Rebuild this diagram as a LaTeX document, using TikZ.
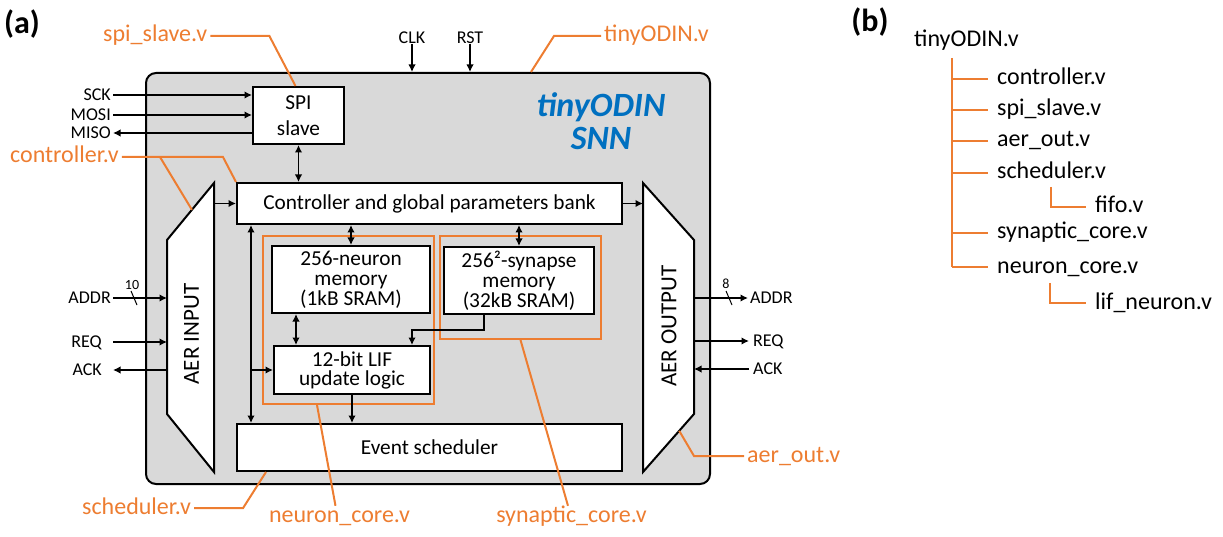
\documentclass[tikz,border=0pt]{standalone}
\usepackage{xcolor}
\usepackage{fontspec}
\setmainfont{Carlito}
\usepackage{tikz}
\usetikzlibrary{arrows.meta, positioning, calc}

\definecolor{vorange}{HTML}{ED7D31}
\definecolor{snnblue}{HTML}{0070C0}
\definecolor{chipgray}{HTML}{D9D9D9}

\begin{document}
\begin{tikzpicture}[x=1pt, y=-1pt,
    blk/.style={draw, line width=2pt, fill=white, inner sep=0pt, align=center, font=\fontsize{21.3}{20}\selectfont},
    core/.style={draw=vorange, line width=2pt},
    pin/.style={inner xsep=2pt, inner ysep=0pt, text height=11.6pt, text depth=0pt, font=\fontsize{18}{20}\selectfont},
    fname/.style={inner xsep=0pt, inner ysep=0pt, text height=16pt, text depth=4pt, font=\fontsize{24}{26}\selectfont},
    vfile/.style={fname, inner xsep=3pt, text=vorange},
    buswd/.style={inner sep=0pt, font=\fontsize{14}{15}\selectfont},
    sig/.style={line width=1.8pt, -{Latex[length=7.5pt, width=7.5pt]}},
    bsig/.style={line width=1.8pt, {Latex[length=7.5pt, width=7.5pt]}-{Latex[length=7.5pt, width=7.5pt]}},
    lead/.style={draw=vorange, line width=2pt}]
    \useasboundingbox (0, 0) rectangle (1223, 537);

    \node[draw, line width=2pt, fill=chipgray, rounded corners=10pt, minimum width=564pt, minimum height=411pt] at (428, 278.5) (chip) {};
    \node[font=\fontsize{32}{34}\selectfont\bfseries, inner sep=0pt] at (22, 24) (lbla) {(a)};
    \node[font=\fontsize{32}{34}\selectfont\bfseries, inner sep=0pt] at (870, 22) (lblb) {(b)};
    \node[font=\fontsize{34}{33}\selectfont\bfseries\itshape, text=snnblue, align=center, inner sep=0pt] at (601, 121) (title) {tinyODIN\\SNN};

    \node[core, minimum width=171pt, minimum height=168pt] at (348.5, 320) (ncore) {};
    \node[core, minimum width=161pt, minimum height=103pt] at (520.5, 287.5) (score) {};

    \node[blk, minimum width=91pt, minimum height=57pt] at (298.5, 115.5) (spi) {SPI\\[6pt]slave};
    \node[blk, minimum width=385pt, minimum height=41pt] at (429.5, 203.5) (ctrl) {Controller and global parameters bank};
    \node[blk, minimum width=158pt, minimum height=67pt] at (351, 279.5) (nmem) {256-neuron\\memory\\(1kB SRAM)};
    \node[blk, minimum width=150pt, minimum height=67pt] at (519, 280.5) (smem) {256²-synapse\\memory\\(32kB SRAM)};
    \node[blk, minimum width=156pt, minimum height=48pt] at (352, 370) (lif) {12-bit LIF\\[-1pt]update logic};
    \node[blk, minimum width=385pt, minimum height=47pt] at (429.5, 447.5) (sched) {Event scheduler};

    \coordinate (ainTop) at (214, 183);
    \coordinate (ainA) at (167, 240);
    \coordinate (ainB) at (167, 414);
    \coordinate (ainBot) at (214, 472);
    \draw[line width=2pt, fill=white] (ainTop) -- (ainA) -- (ainB) -- (ainBot) -- cycle;
    \node[rotate=90, inner sep=0pt, font=\fontsize{23}{25}\selectfont] at (191.5, 334) (ainlbl) {AER INPUT};

    \coordinate (aoutTop) at (643, 183);
    \coordinate (aoutA) at (694, 240);
    \coordinate (aoutB) at (694, 414);
    \coordinate (aoutBot) at (643, 472);
    \draw[line width=2pt, fill=white] (aoutTop) -- (aoutA) -- (aoutB) -- (aoutBot) -- cycle;
    \node[rotate=90, inner sep=0pt, font=\fontsize{23}{25}\selectfont] at (669, 326) (aoutlbl) {AER OUTPUT};

    \node[pin, anchor=east] at (113, 95) (sck) {SCK};
    \node[pin, anchor=east] at (113, 115) (mosi) {MOSI};
    \node[pin, anchor=east] at (113, 133) (miso) {MISO};
    \node[pin, anchor=east] at (113, 298) (addrin) {ADDR};
    \node[pin, anchor=east, inner xsep=11pt] at (113, 342) (reqin) {REQ};
    \node[pin, anchor=east, inner xsep=11pt] at (113, 370) (ackin) {ACK};
    \node[pin, anchor=west] at (748, 298) (addrout) {ADDR};
    \node[pin, anchor=west, inner xsep=4pt] at (749, 341) (reqout) {REQ};
    \node[pin, anchor=west, inner xsep=4pt] at (749, 369) (ackout) {ACK};
    \node[pin] at (412, 38) (clk) {CLK};
    \node[pin] at (470, 38) (rst) {RST};

    \draw[sig] (sck.east) -- (sck.east -| spi.west);
    \draw[sig] (mosi.east) -- (mosi.east -| spi.west);
    \draw[sig] (miso.east -| spi.west) -- (miso.east);
    \draw[sig] (addrin.east) -- (addrin.east -| ainA);
    \draw[sig] (reqin.east) -- (reqin.east -| ainA);
    \draw[sig] (ackin.east -| ainA) -- (ackin.east);
    \draw[sig] (addrout.west -| aoutA) -- (addrout.west);
    \draw[sig] (reqout.west -| aoutA) -- (reqout.west);
    \draw[sig] (ackout.west) -- (ackout.west -| aoutA);
    \draw[sig] (clk.south) -- (clk.south |- chip.north);
    \draw[sig] (rst.south) -- (rst.south |- chip.north);

    \draw[line width=1pt] (131, 291) -- (137, 305);
    \node[buswd] at (132, 285) (w10) {10};
    \draw[line width=1pt] (726, 291) -- (732, 305);
    \node[buswd] at (726, 284) (w8) {8};

    \draw[bsig] (spi.south) -- (spi.south |- ctrl.north);
    \draw[sig] (ctrl.west -| ainTop) -- (ctrl.west);
    \draw[sig] (ctrl.east) -- (ctrl.east -| aoutTop);
    \draw[bsig] (nmem.north) -- (nmem.north |- ctrl.south);
    \draw[bsig] (smem.north) -- (smem.north |- ctrl.south);
    \coordinate (cbus) at ([xshift=15pt]ctrl.south west);
    \draw[bsig] (cbus) -- (cbus |- sched.north);
    \draw[sig] (cbus |- lif.west) -- (lif.west);
    \coordinate (nlink) at ([xshift=-55pt]nmem.south);
    \draw[bsig] (nlink) -- (nlink |- lif.north);
    \draw[sig] ([xshift=-35pt]smem.south) -- ++(0, 15) -| ([xshift=60pt]lif.north);
    \draw[sig] (lif.south) -- (lif.south |- sched.north);

    \node[vfile, anchor=west] at (100, 36) (spiv) {spi\_slave.v};
    \node[vfile, anchor=west] at (601, 36) (topv) {tinyODIN.v};
    \node[vfile, anchor=west] at (7, 157) (ctrlv) {controller.v};
    \node[vfile, anchor=west] at (79, 508) (schedv) {scheduler.v};
    \node[vfile] at (339.5, 516) (ncorev) {neuron\_core.v};
    \node[vfile] at (571.5, 516) (scorev) {synaptic\_core.v};
    \node[vfile, anchor=west] at (744, 456) (aerv) {aer\_out.v};

    \draw[lead] (spiv.east) -- ++(59, 0) -- ([xshift=-3pt]spi.north);
    \draw[lead] (topv.west) -- ++(-47, 0) -- ([xshift=103pt]chip.north);
    \draw[lead] (ctrlv.east) -- ++(38, 0) coordinate (cfork) -- ++(63, 0) -- (ctrl.north west);
    \draw[lead] (cfork) -- ($(ainTop)!0.47!(ainA)$);
    \draw[lead] (schedv.east) -- ++(49, 0) -- ([xshift=30pt]sched.south west);
    \draw[lead] ([xshift=-4pt]ncorev.north) -- ([xshift=-31.5pt]ncore.south);
    \draw[lead] ([xshift=-3.5pt]scorev.north) -- (score.south);
    \draw[lead] (aerv.west) -- ++(-50, 0) -- ($(aoutB)!0.29!(aoutBot)$);

    \node[fname, anchor=west] at (914, 41) (root) {tinyODIN.v};
    \node[fname, anchor=west] at (997, 79) (fctl) {controller.v};
    \node[fname, anchor=west] at (997, 110) (fspi) {spi\_slave.v};
    \node[fname, anchor=west] at (997, 141) (faer) {aer\_out.v};
    \node[fname, anchor=west] at (997, 173) (fsch) {scheduler.v};
    \node[fname, anchor=west] at (1095, 207) (ffifo) {fifo.v};
    \node[fname, anchor=west] at (997, 233) (fsyn) {synaptic\_core.v};
    \node[fname, anchor=west] at (997, 267) (fneu) {neuron\_core.v};
    \node[fname, anchor=west] at (1095, 303) (flif) {lif\_neuron.v};

    \coordinate (trunk) at ([xshift=38pt, yshift=-17pt]root.west);
    \draw[lead] (trunk) -- (trunk |- fneu.west);
    \foreach \f in {fctl, fspi, faer, fsch, fsyn, fneu}
        \draw[lead] (trunk |- \f.west) -- ([xshift=-9pt]\f.west);
    \draw[lead] ([xshift=54pt, yshift=-14pt]fsch.west) |- ([xshift=-9pt]ffifo.west);
    \draw[lead] ([xshift=53pt, yshift=-16pt]fneu.west) |- ([xshift=-9pt]flif.west);
\end{tikzpicture}
\end{document}
